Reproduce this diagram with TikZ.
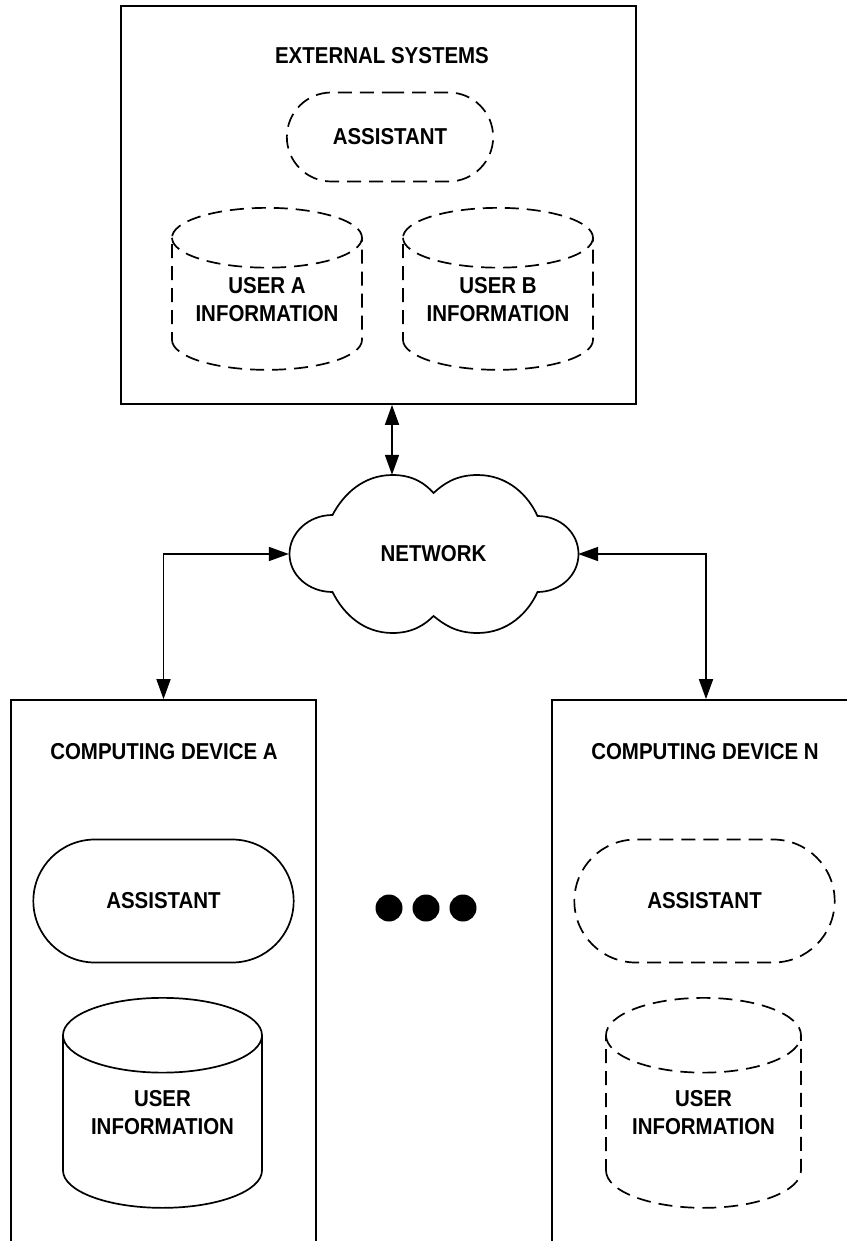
\documentclass[tikz,border=0pt]{standalone}
\usepackage{fontspec}
\usepackage{graphicx}
\setmainfont{Liberation Sans}
\usetikzlibrary{shapes.geometric,shapes.misc,arrows.meta}
\newcommand{\lbl}[1]{\scalebox{0.89}[1]{#1}}
\newcommand{\uplbl}[2][14pt]{\raisebox{#1}[\height][\depth]{\lbl{#2}}}

\begin{document}
\begin{tikzpicture}[x=1pt,y=-1pt,
    every node/.style={font=\fontsize{23}{28}\selectfont\bfseries},
    frame/.style={draw,line width=1.7pt,inner sep=0pt},
    dashline/.style={dash pattern=on 14pt off 8pt},
    pill/.style={rounded rectangle,draw,line width=1.7pt},
    store/.style={cylinder,shape border rotate=90,aspect=0.5,draw,line width=1.7pt,align=center,anchor=north},
    conn/.style={{Triangle[length=20pt,width=14pt]}-{Triangle[length=20pt,width=14pt]},line width=1.7pt}]
    \useasboundingbox (0,0) rectangle (846,1241);

    \node[frame,minimum width=515pt,minimum height=398pt] (ext) at (378.5,205) {};
    \node (exttitle) at (382,56) {\lbl{EXTERNAL SYSTEMS}};
    \node[pill,dashline,minimum width=213pt,minimum height=89pt] (extasst) at (390,137) {\lbl{ASSISTANT}};
    \node[store,dashline,aspect=0.4,minimum width=190pt,minimum height=162pt] (infoa) at (267,207) {\uplbl[9pt]{USER A}\\\uplbl[9pt]{INFORMATION}};
    \node[store,dashline,aspect=0.4,minimum width=190pt,minimum height=162pt] (infob) at (498,207) {\uplbl[9pt]{USER B}\\\uplbl[9pt]{INFORMATION}};

    \node[minimum width=289pt,minimum height=158pt] (net) at (433.5,554) {\lbl{NETWORK}};
    \begin{scope}[shift={(net.center)}]
        \draw[line width=1.7pt] (-101,-39) .. controls (-125,-39) and (-144,-21) .. (-144,0)
            .. controls (-144,21) and (-125,38) .. (-101,38)
            .. controls (-90,60) and (-70,79) .. (-41,79)
            .. controls (-20,79) and (-8,70) .. (0,62)
            .. controls (10,70) and (22,79) .. (44,79)
            .. controls (75,79) and (95,58) .. (104,38)
            .. controls (127,38) and (145,21) .. (145,0)
            .. controls (145,-21) and (127,-38) .. (104,-38)
            .. controls (95,-58) and (75,-79) .. (44,-79)
            .. controls (22,-79) and (10,-70) .. (0,-61)
            .. controls (-8,-70) and (-20,-79) .. (-41,-79)
            .. controls (-70,-79) and (-90,-60) .. (-101,-39) -- cycle;
    \end{scope}

    \node[frame,minimum width=305pt,minimum height=560pt] (deva) at (163.5,980) {};
    \node (devatitle) at (164,752) {\lbl{COMPUTING DEVICE A}};
    \node[pill,minimum width=267pt,minimum height=123pt] (devaasst) at (163.5,901) {\lbl{ASSISTANT}};
    \node[store,minimum width=199pt,minimum height=210pt] (devainfo) at (162.5,997) {\uplbl{USER}\\\uplbl{INFORMATION}};

    \node[frame,minimum width=308pt,minimum height=560pt] (devn) at (706,980) {};
    \node (devntitle) at (705,752) {\lbl{COMPUTING DEVICE N}};
    \node[pill,dashline,minimum width=267pt,minimum height=123pt] (devnasst) at (704.5,901) {\lbl{ASSISTANT}};
    \node[store,dashline,minimum width=195pt,minimum height=210pt] (devninfo) at (703.5,997) {\uplbl{USER}\\\uplbl{INFORMATION}};

    \foreach \i/\x in {1/389,2/426,3/463}
        \node[circle,fill,inner sep=0pt,minimum size=27pt] (dot\i) at (\x,908) {};

    \draw[conn] ([xshift=-41.5pt]net.north |- ext.south) -- ([xshift=-41.5pt]net.north);
    \draw[conn] (net.west) -| (deva.north);
    \draw[conn] (net.east) -| (devn.north);
\end{tikzpicture}
\end{document}
